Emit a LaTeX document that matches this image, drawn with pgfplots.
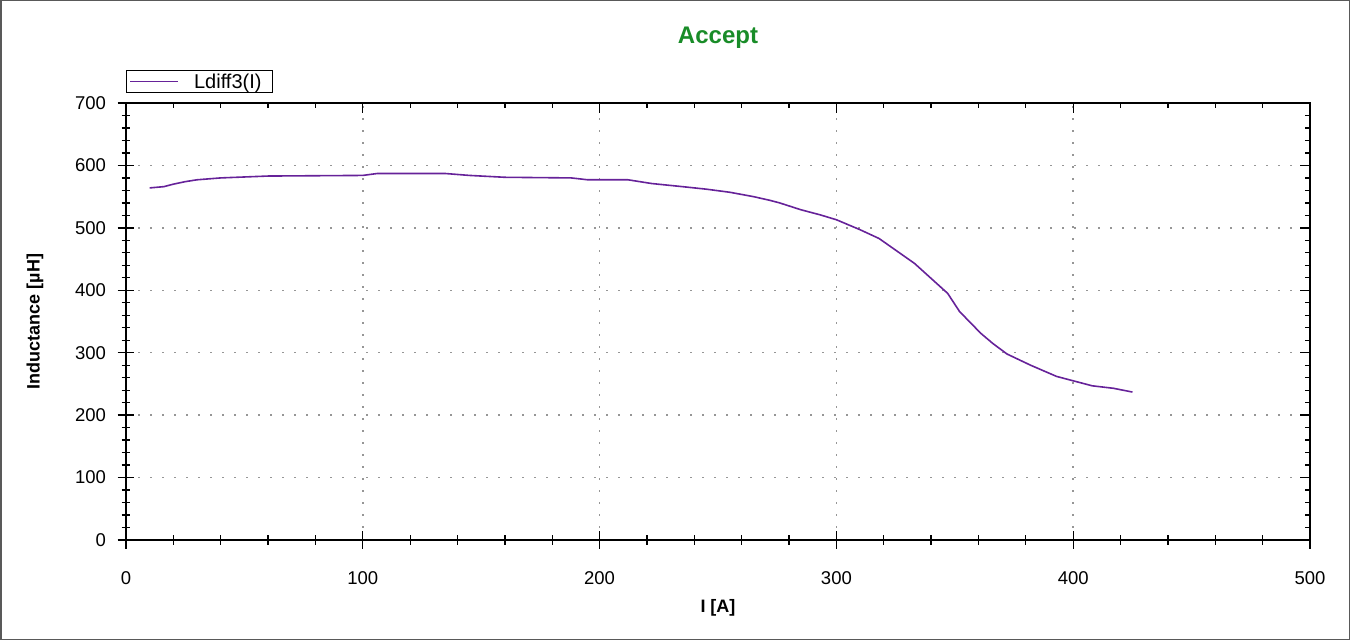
\documentclass[border=0pt]{standalone}
\usepackage{pgfplots}
\pgfplotsset{compat=1.18}
\usepackage{fontspec}
\setmainfont{Liberation Sans}
\definecolor{curve}{RGB}{102,34,153}
\definecolor{titlegreen}{RGB}{25,140,40}
\definecolor{griddots}{RGB}{150,150,150}

\pgfplotsset{
  commonaxis/.style = {
    at = {(126bp,100bp)},
    anchor = south west,
    scale only axis,
    width = 1184bp,
    height = 437bp,
    xmin = 0, xmax = 500,
    ymin = 0, ymax = 700,
    xtick distance = 100,
    ytick distance = 100,
    minor x tick num = 4,
    minor y tick num = 4,
    axis line style = { line width = 1.3bp },
    every tick/.style = { black, line width = 1.3bp },
    /pgf/number format/assume math mode = true,
    tick label style = { font = \fontsize{18.5bp}{22bp}\selectfont },
  },
}

\begin{document}
\begin{tikzpicture}
  \path[use as bounding box] (0,0) rectangle (1350bp,640bp);
  \draw[line width = 1.5bp, color = black!65] (0.75bp,0.75bp) rectangle (1349.25bp,639.25bp);

  % data axis: ticks crossing the bottom and left lines
  \begin{axis} [
    commonaxis,
    xtick pos = lower,
    ytick pos = left,
    tick align = center,
    major tick length = 17bp,
    minor tick length = 9bp,
    xticklabel style = { yshift = -20bp },
    yticklabel style = { xshift = -8bp },
    grid = major,
    major grid style = { color = griddots, line width = 1.5bp, dash pattern = on 1.5bp off 10.5bp },
    title = {Accept},
    title style = {
      at = {(axis description cs:0.5,1.135)}, anchor = center,
      font = \bfseries\fontsize{24bp}{28bp}\selectfont, color = titlegreen,
    },
    xlabel = {I [A]},
    xlabel style = {
      at = {(axis description cs:0.5,-0.1556)}, anchor = center,
      font = \bfseries\fontsize{18bp}{22bp}\selectfont,
    },
    ylabel = {Inductance [µH]},
    ylabel style = {
      at = {(axis description cs:-0.0769,0.5)}, anchor = center,
      font = \bfseries\fontsize{18bp}{22bp}\selectfont,
    },
    legend style = {
      at = {(axis description cs:0,1)}, anchor = south west, yshift = 10bp,
      draw = black, line width = 1bp,
      font = \fontsize{20bp}{22bp}\selectfont,
      inner xsep = 3bp, inner ysep = 1bp,
    },
  ]
    \addplot[
      color = curve, line width = 1.6bp,
      legend image code/.code = {
        \draw[color = curve, line width = 1.6bp] (1bp,0bp) -- (49bp,0bp);
      },
    ] coordinates {
      (10,564) (16,566) (20,570) (25,574) (30,577) (40,580) (60,583)
      (100,584) (106,587) (135,587) (145,584) (160,581) (188,580)
      (195,577) (212,577) (222,571) (235,566) (245,562) (255,557)
      (265,550) (272,544) (276,540) (285,529) (293,521) (300,513)
      (310,497) (318,483) (327,459) (333,443) (340,419) (347,395)
      (352,366) (361,331) (366,315) (372,298) (382,280) (393,262)
      (400,255) (408,247) (417,243) (425,237)
    };
    \addlegendentry{\hspace*{13bp}Ldiff3(I)\hspace*{6bp}};
  \end{axis}

  % overlay axis: inward ticks on the top and right lines
  \begin{axis} [
    commonaxis,
    xtick pos = upper,
    ytick pos = right,
    tick align = inside,
    major tick length = 10bp,
    minor tick length = 5bp,
    xticklabels = {},
    yticklabels = {},
  ]
  \end{axis}
\end{tikzpicture}
\end{document}
